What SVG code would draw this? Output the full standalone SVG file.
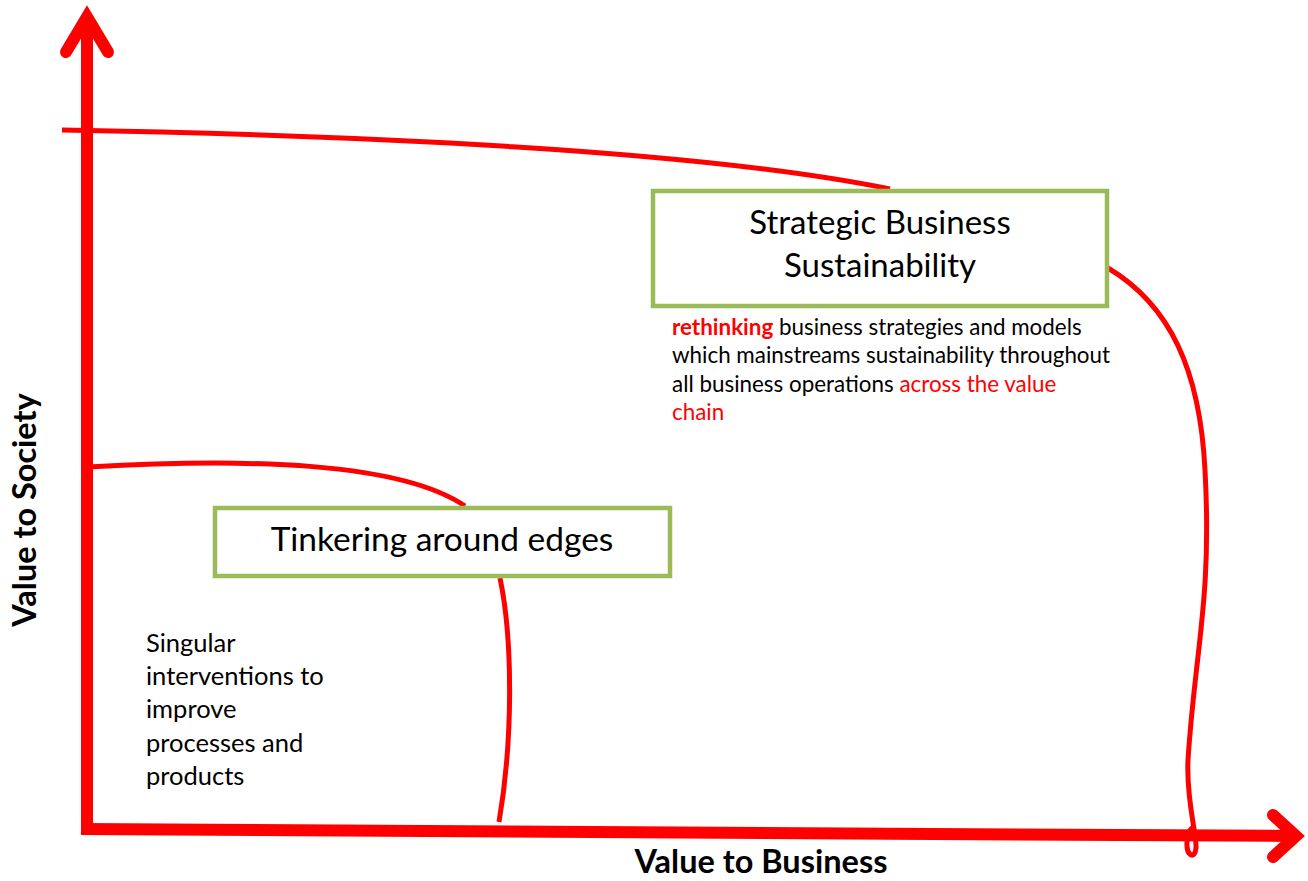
<svg xmlns="http://www.w3.org/2000/svg" width="1308" height="881" viewBox="0 0 1308 881">
  <style>
    .axis { fill: none; stroke: #ff0000; stroke-width: 12; stroke-linecap: butt; }
    .head { fill: none; stroke: #ff0000; stroke-width: 12; stroke-linecap: round; stroke-linejoin: miter; stroke-miterlimit: 10; }
    .curve { fill: none; stroke: #ff0000; stroke-width: 5; stroke-linecap: butt; }
    .box { fill: #ffffff; stroke: #9bbb59; stroke-width: 4.5; }
    .title { font-family: Lato, "Open Sans", sans-serif; fill: #000000; text-anchor: middle; }
    .body { font-family: Lato, "Open Sans", sans-serif; fill: #000000; }
    .red { fill: #ff0000; }
    .axislabel { font-family: Lato, "Open Sans", sans-serif; font-weight: bold; fill: #000000; text-anchor: middle; }
  </style>

  <rect width="1308" height="881" fill="#ffffff"/>

  <!-- boundary curves between the two regions -->
  <g id="connectors">
    <path class="curve" d="M62,130 C 350,135 700,150 890,189"/>
    <path class="curve" d="M1108,268 C 1170,305 1200,370 1205,470 C 1212,600 1195,650 1188,760 C 1186,800 1197,835 1196,848 C 1195,860 1186,856 1187,842 C 1188,832 1190,829 1193,827"/>
    <path class="curve" d="M88,467 C 250,458 400,462 465,506"/>
    <path class="curve" d="M500,578 C 513,640 513,740 499,822"/>
  </g>

  <!-- axes -->
  <g id="axes">
    <line class="axis" x1="87" y1="18" x2="87" y2="835"/>
    <polyline class="head" points="66,52 87,17 108,52"/>
    <line class="axis" x1="81" y1="829" x2="1294" y2="836"/>
    <polyline class="head" points="1273,815 1296,836 1273,857"/>
  </g>

  <g id="strategic">
    <rect class="box" x="653" y="191" width="454" height="115"/>
    <text class="title" font-size="33" x="880" y="234">Strategic Business</text>
    <text class="title" font-size="33" x="880" y="277">Sustainability</text>
  </g>

  <g id="strategic-note">
    <text class="body" font-size="22.4" x="672" y="335"><tspan class="red" font-weight="bold">rethinking</tspan> business strategies and models</text>
    <text class="body" font-size="22.4" x="672" y="363">which mainstreams sustainability throughout</text>
    <text class="body" font-size="22.4" x="672" y="392">all business operations <tspan class="red">across the value</tspan></text>
    <text class="body red" font-size="22.4" x="672" y="420">chain</text>
  </g>

  <g id="tinkering">
    <rect class="box" x="215" y="508" width="455" height="68"/>
    <text class="title" font-size="33.5" x="442" y="551">Tinkering around edges</text>
  </g>

  <g id="tinkering-note">
    <text class="body" font-size="25.5" x="146" y="652">Singular</text>
    <text class="body" font-size="25.5" x="146" y="685">interventions to</text>
    <text class="body" font-size="25.5" x="146" y="718">improve</text>
    <text class="body" font-size="25.5" x="146" y="752">processes and</text>
    <text class="body" font-size="25.5" x="146" y="785">products</text>
  </g>

  <g id="labels">
    <text class="axislabel" font-size="32.5" x="761" y="873">Value to Business</text>
    <text class="axislabel" font-size="32.5" transform="translate(36,510) rotate(-90)">Value to Society</text>
  </g>
</svg>
